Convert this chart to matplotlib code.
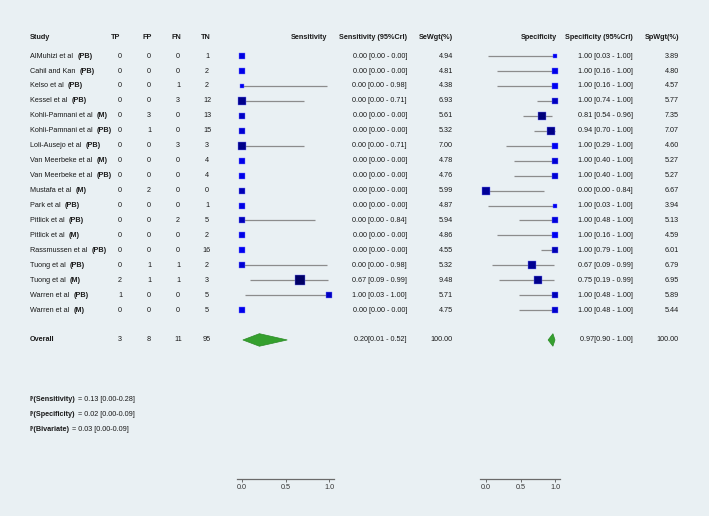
import numpy as np
import matplotlib
matplotlib.use("Agg")
import matplotlib.pyplot as plt
from matplotlib.patches import Polygon

plt.rcParams['font.family'] = ['Liberation Sans', 'DejaVu Sans']

# ---- data ----
studies = ["AlMuhizi et al", "Cahil and Kan", "Kelso et al", "Kessel et al",
           "Kohli-Pamnani et al", "Kohli-Pamnani et al", "Loli-Ausejo et al",
           "Van Meerbeke et al", "Van Meerbeke et al", "Mustafa et al", "Park et al",
           "Pitlick et al", "Pitlick et al", "Rassmussen et al", "Tuong et al",
           "Tuong et al", "Warren et al", "Warren et al"]
design = ["(PB)", "(PB)", "(PB)", "(PB)", "(M)", "(PB)", "(PB)", "(M)", "(PB)",
          "(M)", "(PB)", "(PB)", "(M)", "(PB)", "(PB)", "(M)", "(PB)", "(M)"]
tp = [0, 0, 0, 0, 0, 0, 0, 0, 0, 0, 0, 0, 0, 0, 0, 2, 1, 0]
fp = [0, 0, 0, 0, 3, 1, 0, 0, 0, 2, 0, 0, 0, 0, 1, 1, 0, 0]
fn = [0, 0, 1, 3, 0, 0, 3, 0, 0, 0, 0, 2, 0, 0, 1, 1, 0, 0]
tn = [1, 2, 2, 12, 13, 15, 3, 4, 4, 0, 1, 5, 2, 16, 2, 3, 5, 5]

sens = [0, 0, 0, 0, 0, 0, 0, 0, 0, 0, 0, 0, 0, 0, 0, 0.67, 1.00, 0]
sens_lo = [0, 0, 0, 0, 0, 0, 0, 0, 0, 0, 0, 0, 0, 0, 0, 0.09, 0.03, 0]
sens_hi = [0, 0, 0.98, 0.71, 0, 0, 0.71, 0, 0, 0, 0, 0.84, 0, 0, 0.98, 0.99, 1.00, 0]
se_wgt = [4.94, 4.81, 4.38, 6.93, 5.61, 5.32, 7.00, 4.78, 4.76, 5.99, 4.87, 5.94,
          4.86, 4.55, 5.32, 9.48, 5.71, 4.75]

spec = [1.00, 1.00, 1.00, 1.00, 0.81, 0.94, 1.00, 1.00, 1.00, 0.00, 1.00, 1.00,
        1.00, 1.00, 0.67, 0.75, 1.00, 1.00]
spec_lo = [0.03, 0.16, 0.16, 0.74, 0.54, 0.70, 0.29, 0.40, 0.40, 0.00, 0.03, 0.48,
           0.16, 0.79, 0.09, 0.19, 0.48, 0.48]
spec_hi = [1.00, 1.00, 1.00, 1.00, 0.96, 1.00, 1.00, 1.00, 1.00, 0.84, 1.00, 1.00,
           1.00, 1.00, 0.99, 0.99, 1.00, 1.00]
sp_wgt = [3.89, 4.80, 4.57, 5.77, 7.35, 7.07, 4.60, 5.27, 5.27, 6.67, 3.94, 5.13,
          4.59, 6.01, 6.79, 6.95, 5.89, 5.44]

overall_counts = [3, 8, 11, 95]
overall_sens = (0.20, 0.01, 0.52)
overall_spec = (0.97, 0.90, 1.00)

i2_names = ["Sensitivity", "Specificity", "Bivariate"]
i2_vals = [0.13, 0.02, 0.03]
i2_lo = [0.00, 0.00, 0.00]
i2_hi = [0.28, 0.09, 0.09]

# ---- layout (pixels of a 709x516 canvas) ----
W, H = 709, 516
BG = "#e9f0f3"
TXT = "#1a1a1a"
FS = 5.2
ROW0, ROWH = 56.1, 14.94


def px2row(py):
    return (py - ROW0) / ROWH


def box_color(w):
    # bigger weight -> darker navy box
    t = np.clip((w - 4.6) / 3.2, 0, 1)
    return (0.0, 0.0, 0.95 - 0.55 * t)


fig = plt.figure(figsize=(W / 100, H / 100), dpi=100, facecolor=BG)
ax = fig.add_axes([0, 0, 1, 1])
ax.set_xlim(0, W)
ax.set_ylim(px2row(H), px2row(0))
ax.axis("off")
ax.set_facecolor(BG)

n = len(studies)
rows = np.arange(n)
overall_row = n + 1
hdr = px2row(37)

# headers
kw_b = dict(fontsize=FS, fontweight="bold", color=TXT, va="center")
ax.text(30, hdr, "Study", ha="left", **kw_b)
for x, lab in zip([116, 147, 176, 206], ["TP", "FP", "FN", "TN"]):
    ax.text(x, hdr, lab, ha="center", **kw_b)
ax.text(327, hdr, "Sensitivity", ha="right", **kw_b)
ax.text(407, hdr, "Sensitivity (95%CrI)", ha="right", **kw_b)
ax.text(453, hdr, "SeWgt(%)", ha="right", **kw_b)
ax.text(557, hdr, "Specificity", ha="right", **kw_b)
ax.text(633, hdr, "Specificity (95%CrI)", ha="right", **kw_b)
ax.text(679, hdr, "SpWgt(%)", ha="right", **kw_b)

kw = dict(fontsize=FS, color=TXT, va="center")
for i in rows:
    t = ax.text(30, i, studies[i], ha="left", **kw)
    ax.annotate(design[i], xy=(1, 0.5), xycoords=t, xytext=(3, 0),
                textcoords="offset points", ha="left", va="center",
                fontsize=FS, fontweight="bold", color=TXT)
    for x, v in zip([120, 149, 178, 207], [tp[i], fp[i], fn[i], tn[i]]):
        ax.text(x, i, str(v), ha="center", **kw)
    ax.text(407, i, f"{sens[i]:.2f} [{sens_lo[i]:.2f} - {sens_hi[i]:.2f}]", ha="right", **kw)
    ax.text(453, i, f"{se_wgt[i]:.2f}", ha="right", **kw)
    ax.text(633, i, f"{spec[i]:.2f} [{spec_lo[i]:.2f} - {spec_hi[i]:.2f}]", ha="right", **kw)
    ax.text(679, i, f"{sp_wgt[i]:.2f}", ha="right", **kw)

# overall row
ax.text(30, overall_row, "Overall", ha="left", **kw_b)
for x, v in zip([120, 149, 178, 207], overall_counts):
    ax.text(x, overall_row, str(v), ha="center", **kw)
ax.text(407, overall_row, "%.2f[%.2f - %.2f]" % overall_sens, ha="right", **kw)
ax.text(453, overall_row, "100.00", ha="right", **kw)
ax.text(633, overall_row, "%.2f[%.2f - %.2f]" % overall_spec, ha="right", **kw)
ax.text(679, overall_row, "100.00", ha="right", **kw)

# heterogeneity
for k, (nm, v, lo, hi) in enumerate(zip(i2_names, i2_vals, i2_lo, i2_hi)):
    t = ax.text(30, overall_row + 4 + k, f"I²({nm})", ha="left", **kw_b)
    ax.annotate(f" = {v:.2f} [{lo:.2f}-{hi:.2f}]", xy=(1, 0.5), xycoords=t,
                ha="left", va="center", fontsize=FS, color=TXT)


def forest_axes(x0, x1, zero_px, one_px):
    top, bot = 45, 479
    fa = fig.add_axes([x0 / W, (H - bot) / H, (x1 - x0) / W, (bot - top) / H])
    scale = one_px - zero_px
    fa.set_xlim((x0 - zero_px) / scale, (x1 - zero_px) / scale)
    fa.set_ylim(px2row(bot), px2row(top))
    fa.patch.set_visible(False)
    for s in ["top", "right", "left"]:
        fa.spines[s].set_visible(False)
    fa.spines["bottom"].set_color("#6a6a6a")
    fa.spines["bottom"].set_linewidth(0.9)
    fa.set_yticks([])
    fa.set_xticks([0, 0.5, 1.0])
    fa.set_xticklabels(["0.0", "0.5", "1.0"])
    fa.tick_params(axis="x", direction="out", length=2, width=0.7, pad=1.5,
                   colors="#6a6a6a", labelsize=FS, labelcolor="#333333")
    return fa


def draw_forest(fa, est, lo, hi, wgt, ov):
    for i in rows:
        fa.plot([lo[i], hi[i]], [i, i], color="#8c8c8c", lw=0.9,
                solid_capstyle="butt", zorder=2)
        c = box_color(wgt[i])
        fa.plot(est[i], i, marker="s", ms=0.8 * wgt[i], color=c,
                mec=(0.45, 0.45, 1.0), mew=0.3, zorder=3)
    e, l, h = ov
    dh = 0.42
    fa.add_patch(Polygon([(l, overall_row), (e, overall_row - dh),
                          (h, overall_row), (e, overall_row + dh)],
                         closed=True, facecolor="#35a02e", edgecolor="#2a8a25",
                         lw=0.5, zorder=3))


ax_se = forest_axes(237, 334, 242, 329)
draw_forest(ax_se, sens, sens_lo, sens_hi, se_wgt, overall_sens)
ax_sp = forest_axes(480, 560, 486, 555)
draw_forest(ax_sp, spec, spec_lo, spec_hi, sp_wgt, overall_spec)

fig.savefig("out.png", dpi=100, facecolor=BG)
